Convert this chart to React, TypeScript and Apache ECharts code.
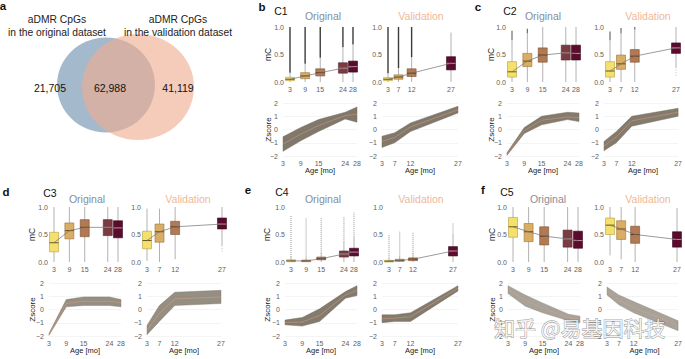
import React, { useEffect, useRef } from "react";
import * as echarts from "echarts";

// ---------- data ----------
const AGES_ORIG = [3, 9, 15, 24, 28];
const AGES_VAL = [3, 7, 12, 27];

const VENN_TITLES_LEFT = ["aDMR CpGs", "in the original dataset"];
const VENN_TITLES_RIGHT = ["aDMR CpGs", "in the validation dataset"];
const VENN_COUNTS = [21705, 62988, 41119];

const CLUSTERS = ["C1", "C2", "C3", "C4", "C5"];
const PANEL_LETTERS = ["b", "c", "d", "e", "f"];

// box rows per age: [lowerWhisker, q1, median, q3, upperWhisker, outlierTop, outlierBottom]
const C1_ORIG_BOX = [
  [0.0, 0.025, 0.05, 0.085, 0.17, 1.0],
  [0.0, 0.06, 0.11, 0.17, 0.33, 1.0],
  [0.0, 0.11, 0.17, 0.24, 0.44, 1.0],
  [0.0, 0.16, 0.25, 0.35, 0.63, 1.0],
  [0.0, 0.18, 0.28, 0.38, 0.68, 1.0],
];
const C1_VAL_BOX = [
  [0.0, 0.025, 0.05, 0.08, 0.16, 1.0],
  [0.0, 0.05, 0.09, 0.13, 0.25, 1.0],
  [0.0, 0.1, 0.16, 0.24, 0.45, 1.0],
  [0.0, 0.22, 0.34, 0.46, 0.9, 0.9],
];
const C2_ORIG_BOX = [
  [0.0, 0.09, 0.185, 0.37, 0.76, 0.93],
  [0.0, 0.28, 0.38, 0.52, 0.88, 0.97],
  [0.0, 0.36, 0.49, 0.62, 1.0, 1.0],
  [0.0, 0.4, 0.53, 0.67, 1.0, 1.0],
  [0.0, 0.4, 0.52, 0.67, 1.0, 1.0],
];
const C2_VAL_BOX = [
  [0.0, 0.09, 0.2, 0.37, 0.76, 0.92],
  [0.0, 0.23, 0.33, 0.49, 0.88, 0.98],
  [0.0, 0.36, 0.47, 0.59, 0.95, 1.0],
  [0.27, 0.52, 0.62, 0.71, 1.0, 1.0, 0.1],
];
const C3_ORIG_BOX = [
  [0.0, 0.185, 0.35, 0.54, 1.0],
  [0.0, 0.42, 0.57, 0.71, 1.0],
  [0.0, 0.46, 0.63, 0.77, 1.0],
  [0.0, 0.48, 0.63, 0.77, 1.0],
  [0.0, 0.44, 0.62, 0.75, 1.0],
];
const C3_VAL_BOX = [
  [0.02, 0.24, 0.39, 0.56, 0.97],
  [0.0, 0.36, 0.55, 0.69, 0.97],
  [0.05, 0.5, 0.64, 0.74, 1.0],
  [0.3, 0.6, 0.69, 0.8, 1.0, 1.0, 0.18],
];
const C4_ORIG_BOX = [
  [0.0, 0.005, 0.02, 0.04, 0.09, 0.85],
  [0.0, 0.005, 0.02, 0.035, 0.08, 0.8],
  [0.0, 0.04, 0.06, 0.09, 0.16, 0.8],
  [0.0, 0.09, 0.145, 0.2, 0.36, 0.82],
  [0.0, 0.11, 0.18, 0.25, 0.45, 0.9],
];
const C4_VAL_BOX = [
  [0.0, 0.0, 0.015, 0.03, 0.07, 0.5],
  [0.0, 0.01, 0.03, 0.05, 0.1, 0.55],
  [0.0, 0.025, 0.05, 0.075, 0.15, 0.55],
  [0.0, 0.11, 0.2, 0.28, 0.5, 0.7],
];
const C5_ORIG_BOX = [
  [0.0, 0.45, 0.64, 0.81, 1.0],
  [0.0, 0.37, 0.55, 0.7, 1.0],
  [0.0, 0.31, 0.47, 0.64, 1.0],
  [0.0, 0.27, 0.42, 0.58, 1.0],
  [0.0, 0.25, 0.39, 0.56, 1.0],
];
const C5_VAL_BOX = [
  [0.12, 0.5, 0.67, 0.8, 1.0],
  [0.05, 0.41, 0.6, 0.75, 1.0],
  [0.0, 0.34, 0.5, 0.65, 1.0],
  [0.0, 0.27, 0.41, 0.55, 0.98],
];

// z-score bundle envelopes (lower / upper) and mean line
const C1_ORIG_Z_LO = [-1.65, -0.85, -0.15, 0.8, 0.55];
const C1_ORIG_Z_HI = [-0.55, 0.15, 0.75, 1.3, 1.7];
const C1_ORIG_Z_MEAN = [-1.1, -0.35, 0.3, 1.05, 1.15];
const C1_VAL_Z_LO = [-1.35, -1.0, -0.15, 1.25];
const C1_VAL_Z_HI = [-0.5, -0.25, 0.5, 1.75];
const C1_VAL_Z_MEAN = [-0.9, -0.6, 0.2, 1.5];

const C2_ORIG_Z_LO = [-1.95, -0.3, 0.35, 0.75, 0.6];
const C2_ORIG_Z_HI = [-1.75, 0.15, 1.0, 1.3, 1.25];
const C2_ORIG_Z_MEAN = [-1.85, -0.1, 0.7, 0.95, 0.9];
const C2_VAL_Z_LO = [-1.6, -1.0, 0.25, 1.0];
const C2_VAL_Z_HI = [-0.9, -0.15, 1.0, 1.6];
const C2_VAL_Z_MEAN = [-1.25, -0.55, 0.65, 1.3];

const C3_ORIG_Z_LO = [-1.95, 0.2, 0.3, 0.3, 0.2];
const C3_ORIG_Z_HI = [-1.8, 0.75, 0.95, 0.95, 0.75];
const C3_ORIG_Z_MEAN = [-1.88, 0.45, 0.62, 0.62, 0.5];
const C3_VAL_Z_LO = [-1.9, -0.9, 0.3, 0.45];
const C3_VAL_Z_HI = [-1.2, 0.3, 1.3, 1.45];
const C3_VAL_Z_MEAN = [-1.55, -0.3, 0.8, 0.95];

const C4_ORIG_Z_LO = [-1.15, -1.25, -0.9, 0.85, 1.05];
const C4_ORIG_Z_HI = [-0.8, -0.6, 0.05, 1.35, 1.8];
const C4_ORIG_Z_MEAN = [-0.98, -0.95, -0.45, 1.1, 1.45];
const C4_VAL_Z_LO = [-1.0, -0.9, -0.9, 1.4];
const C4_VAL_Z_HI = [-0.4, -0.4, -0.25, 1.8];
const C4_VAL_Z_MEAN = [-0.7, -0.65, -0.55, 1.6];

const C5_ORIG_Z_LO = [1.2, 0.25, -0.25, -0.85, -1.0];
const C5_ORIG_Z_HI = [1.8, 1.1, 0.5, -0.35, -0.5];
const C5_ORIG_Z_MEAN = [1.5, 0.7, 0.1, -0.6, -0.75];
const C5_VAL_Z_LO = [1.1, 0.35, -0.25, -1.6];
const C5_VAL_Z_HI = [1.7, 1.1, 0.6, -0.85];
const C5_VAL_Z_MEAN = [1.4, 0.7, 0.15, -1.2];

// ---------- styles / layout ----------
const FONT = "Liberation Sans, Arial, Helvetica, sans-serif";
const FILL_ORIG = ["#f4e06c", "#d9ad62", "#b27a52", "#7b3b42", "#5a0c2e"];
const FILL_VAL = ["#f4e06c", "#d9ad62", "#b27a52", "#5a0c2e"];
const STROKE_ORIG = ["#b39f3e", "#9a7440", "#7a5034", "#55272d", "#3a0619"];
const STROKE_VAL = ["#b39f3e", "#9a7440", "#7a5034", "#3a0619"];
const MED_ORIG = ["#6b5420", "#6b4a22", "#5e3a22", "#b98a8c", "#c28a98"];
const MED_VAL = ["#6b5420", "#6b4a22", "#5e3a22", "#c28a98"];

type Panel = {
  oy: number;
  boxO: [number, number]; boxV: [number, number];
  zO: [number, number]; zV: [number, number];
  letter: [number, number]; cluster: [number, number];
  titleO: number; titleV: number; titleY: number; yLabX: number;
  origBox: number[][]; valBox: number[][];
  zo: number[][]; zv: number[][];
  out: { color: string; width: number; opacity: number; dash?: number[] };
  band: { color: string; opacity: number };
};

const PANELS: Panel[] = [
  {
    oy: 0, boxO: [290, 63], boxV: [388, 63], zO: [283, 74], zV: [382, 76],
    letter: [262, 7], cluster: [281, 11], titleO: 323, titleV: 421, titleY: 16, yLabX: 268,
    origBox: C1_ORIG_BOX, valBox: C1_VAL_BOX,
    zo: [C1_ORIG_Z_LO, C1_ORIG_Z_HI, C1_ORIG_Z_MEAN], zv: [C1_VAL_Z_LO, C1_VAL_Z_HI, C1_VAL_Z_MEAN],
    out: { color: "#262626", width: 1.4, opacity: 0.9 }, band: { color: "#756d5e", opacity: 0.92 },
  },
  {
    oy: 0, boxO: [512, 64], boxV: [610, 66], zO: [507, 72], zV: [604, 78],
    letter: [478, 7], cluster: [510, 11], titleO: 543, titleV: 648, titleY: 16, yLabX: 491,
    origBox: C2_ORIG_BOX, valBox: C2_VAL_BOX,
    zo: [C2_ORIG_Z_LO, C2_ORIG_Z_HI, C2_ORIG_Z_MEAN], zv: [C2_VAL_Z_LO, C2_VAL_Z_HI, C2_VAL_Z_MEAN],
    out: { color: "#3a3a3a", width: 1.2, opacity: 0.75 }, band: { color: "#756d5e", opacity: 0.9 },
  },
  {
    oy: 180, boxO: [54, 64], boxV: [147, 75], zO: [49, 72], zV: [147, 74],
    letter: [6, 192], cluster: [50, 193], titleO: 87, titleV: 188, titleY: 199, yLabX: 32,
    origBox: C3_ORIG_BOX, valBox: C3_VAL_BOX,
    zo: [C3_ORIG_Z_LO, C3_ORIG_Z_HI, C3_ORIG_Z_MEAN], zv: [C3_VAL_Z_LO, C3_VAL_Z_HI, C3_VAL_Z_MEAN],
    out: { color: "#9a9a9a", width: 1, opacity: 0.6, dash: [1, 1.5] }, band: { color: "#7a7264", opacity: 0.8 },
  },
  {
    oy: 180, boxO: [291, 63], boxV: [389, 64], zO: [285, 72], zV: [382, 76],
    letter: [248, 190], cluster: [282, 192], titleO: 323, titleV: 421, titleY: 199, yLabX: 267,
    origBox: C4_ORIG_BOX, valBox: C4_VAL_BOX,
    zo: [C4_ORIG_Z_LO, C4_ORIG_Z_HI, C4_ORIG_Z_MEAN], zv: [C4_VAL_Z_LO, C4_VAL_Z_HI, C4_VAL_Z_MEAN],
    out: { color: "#6a6a6a", width: 1.3, opacity: 0.55, dash: [1, 1] }, band: { color: "#756d5e", opacity: 0.9 },
  },
  {
    oy: 180, boxO: [513, 65], boxV: [610, 67], zO: [508, 72], zV: [607, 75],
    letter: [483, 190], cluster: [507, 192], titleO: 548, titleV: 648, titleY: 199, yLabX: 492,
    origBox: C5_ORIG_BOX, valBox: C5_VAL_BOX,
    zo: [C5_ORIG_Z_LO, C5_ORIG_Z_HI, C5_ORIG_Z_MEAN], zv: [C5_VAL_Z_LO, C5_VAL_Z_HI, C5_VAL_Z_MEAN],
    out: { color: "#888", width: 1, opacity: 0.5 }, band: { color: "#857f73", opacity: 0.72 },
  },
];

const BOX_TOP = 27, BOX_H = 55, Z_TOP = 103, Z_H = 53;

function makeBoxRender(fills: string[], strokes: string[], meds: string[], bw: number, out: Panel["out"]) {
  return (params: any, api: any) => {
    const i = params.dataIndex;
    const x = api.value(0);
    const v = [1, 2, 3, 4, 5, 6, 7].map((k) => api.value(k));
    const [lo, q1, md, q3, hi, ot, ob] = v;
    const y = (val: number) => api.coord([x, val])[1];
    const px = api.coord([x, 0])[0];
    const children: any[] = [];
    if (ot > hi) {
      children.push({
        type: "line", shape: { x1: px, y1: y(hi), x2: px, y2: y(ot) },
        style: { stroke: out.color, lineWidth: out.width, opacity: out.opacity, lineDash: out.dash },
      });
    }
    if (ob < lo) {
      children.push({
        type: "line", shape: { x1: px, y1: y(lo), x2: px, y2: y(ob) },
        style: { stroke: "#9a9a9a", lineWidth: 1, opacity: 0.6, lineDash: [1, 1.5] },
      });
    }
    children.push({
      type: "line", shape: { x1: px, y1: y(lo), x2: px, y2: y(hi) },
      style: { stroke: "#a9a9a9", lineWidth: 0.9 },
    });
    children.push({
      type: "rect", shape: { x: px - bw / 2, y: y(q3), width: bw, height: Math.max(1.2, y(q1) - y(q3)) },
      style: { fill: fills[i], stroke: strokes[i], lineWidth: 0.6 },
    });
    children.push({
      type: "line", shape: { x1: px - bw / 2, y1: y(md), x2: px + bw / 2, y2: y(md) },
      style: { stroke: meds[i], lineWidth: 1 },
    });
    return { type: "group", children };
  };
}

function makeBandRender(ages: number[], lo: number[], hi: number[], band: Panel["band"]) {
  return (params: any, api: any) => {
    if (params.dataIndex !== 0) return null;
    const pts: number[][] = [];
    ages.forEach((a, i) => pts.push(api.coord([a, lo[i]])));
    for (let i = ages.length - 1; i >= 0; i--) pts.push(api.coord([ages[i], hi[i]]));
    return {
      type: "polygon",
      shape: { points: pts },
      style: { fill: band.color, opacity: band.opacity, stroke: band.color, lineWidth: 0.5 },
    };
  };
}

function buildOption() {
  const grid: any[] = [];
  const xAxis: any[] = [];
  const yAxis: any[] = [];
  const series: any[] = [];
  const graphic: any[] = [];

  const labelStyle = { fontSize: 7, color: "#5e5e5e", fontFamily: FONT };

  const addGrid = (left: number, top: number, width: number, height: number, ages: number[], isZ: boolean) => {
    const gi = grid.length;
    grid.push({ left, top, width, height });
    xAxis.push({
      gridIndex: gi, type: "value", min: 3, max: ages[ages.length - 1],
      axisLine: { show: false }, axisTick: { show: false }, splitLine: { show: false },
      axisLabel: { ...labelStyle, margin: 4, customValues: ages },
    });
    yAxis.push(
      isZ
        ? {
            gridIndex: gi, type: "value", min: -2, max: 2, interval: 1,
            axisLine: { show: false }, axisTick: { show: false },
            splitLine: { show: true, lineStyle: { color: "#ededed", width: 0.6 } },
            axisLabel: { ...labelStyle, margin: 5, formatter: (v: number) => String(v).replace("-", "\u2212") },
          }
        : {
            gridIndex: gi, type: "value", min: 0, max: 1, interval: 0.5,
            axisLine: { show: false }, axisTick: { show: false }, splitLine: { show: false },
            axisLabel: { ...labelStyle, margin: 6, formatter: (v: number) => v.toFixed(1) },
          }
    );
    return gi;
  };

  const addBox = (gi: number, ages: number[], rows: number[][], fills: string[], strokes: string[], meds: string[], out: Panel["out"]) => {
    const data = rows.map((r, i) => [ages[i], r[0], r[1], r[2], r[3], r[4], r[5] ?? r[4], r[6] ?? r[0]]);
    series.push({
      type: "custom", xAxisIndex: gi, yAxisIndex: gi, clip: false, z: 2, silent: true,
      renderItem: makeBoxRender(fills, strokes, meds, 9, out),
      encode: { x: 0, y: [1, 2, 3, 4, 5] }, data,
    });
    series.push({
      type: "line", xAxisIndex: gi, yAxisIndex: gi, z: 3, silent: true, symbol: "none",
      lineStyle: { color: "#707070", width: 0.7 },
      data: rows.map((r, i) => [ages[i], r[2]]),
    });
  };

  const addBand = (gi: number, ages: number[], z: number[][], band: Panel["band"]) => {
    const [lo, hi, mean] = z;
    series.push({
      type: "custom", xAxisIndex: gi, yAxisIndex: gi, z: 2, silent: true,
      renderItem: makeBandRender(ages, lo, hi, band),
      encode: { x: 0, y: [1, 2] }, data: ages.map((a, i) => [a, lo[i], hi[i]]),
    });
    series.push({
      type: "line", xAxisIndex: gi, yAxisIndex: gi, z: 3, silent: true, symbol: "none",
      lineStyle: { color: "#eaa47c", width: 0.8, opacity: 0.55 },
      data: ages.map((a, i) => [a, mean[i]]),
    });
  };

  const txt = (x: number, y: number, text: string, extra: any = {}, rotation = 0) => {
    graphic.push({
      type: "text", x, y, rotation, z: 50, silent: true,
      style: {
        text, fontSize: 8, fontFamily: FONT, fill: "#222",
        textAlign: "center", textVerticalAlign: "middle", ...extra,
      },
    });
  };

  PANELS.forEach((p, k) => {
    const bt = BOX_TOP + p.oy, zt = Z_TOP + p.oy;
    const g1 = addGrid(p.boxO[0], bt, p.boxO[1], BOX_H, AGES_ORIG, false);
    const g2 = addGrid(p.boxV[0], bt, p.boxV[1], BOX_H, AGES_VAL, false);
    const g3 = addGrid(p.zO[0], zt, p.zO[1], Z_H, AGES_ORIG, true);
    const g4 = addGrid(p.zV[0], zt, p.zV[1], Z_H, AGES_VAL, true);
    addBox(g1, AGES_ORIG, p.origBox, FILL_ORIG, STROKE_ORIG, MED_ORIG, p.out);
    addBox(g2, AGES_VAL, p.valBox, FILL_VAL, STROKE_VAL, MED_VAL, p.out);
    addBand(g3, AGES_ORIG, p.zo, p.band);
    addBand(g4, AGES_VAL, p.zv, p.band);

    txt(p.letter[0], p.letter[1], PANEL_LETTERS[k], { fontSize: 11.5, fontWeight: "bold", fill: "#111" });
    txt(p.cluster[0], p.cluster[1], CLUSTERS[k], { fontSize: 10.5, fill: "#111" });
    txt(p.titleO, p.titleY, "Original", { fontSize: 10.5, fill: "#868e99" });
    txt(p.titleV, p.titleY, "Validation", { fontSize: 10.5, fill: "#efb898" });
    txt(p.yLabX, bt + BOX_H / 2, "mC", { fontSize: 8.5 }, Math.PI / 2);
    txt(p.yLabX, zt + Z_H / 2, "Zscore", { fontSize: 8 }, Math.PI / 2);
    txt(p.zO[0] + p.zO[1] / 2, zt + Z_H + 14, "Age [mo]", { fontSize: 7.5 });
    txt(p.zV[0] + p.zV[1] / 2, zt + Z_H + 14, "Age [mo]", { fontSize: 7.5 });
  });

  // Venn diagram (panel a)
  graphic.push({ type: "ellipse", z: 10, silent: true, shape: { cx: 106, cy: 85, rx: 49, ry: 47.5 }, style: { fill: "#a4b9cc" } });
  graphic.push({ type: "ellipse", z: 11, silent: true, shape: { cx: 138, cy: 87, rx: 56, ry: 53 }, style: { fill: "rgba(239,172,146,0.63)" } });
  txt(3, 6, "a", { fontSize: 11.5, fontWeight: "bold", fill: "#111" });
  txt(57, 19, VENN_TITLES_LEFT[0], { fontSize: 10.3, fill: "#222" });
  txt(57, 32, VENN_TITLES_LEFT[1], { fontSize: 10.3, fill: "#222" });
  txt(178, 19, VENN_TITLES_RIGHT[0], { fontSize: 10.3, fill: "#222" });
  txt(178, 32, VENN_TITLES_RIGHT[1], { fontSize: 10.3, fill: "#222" });
  txt(50, 88, VENN_COUNTS[0].toLocaleString("en-US"), { fontSize: 10.5, fill: "#111" });
  txt(110, 88, VENN_COUNTS[1].toLocaleString("en-US"), { fontSize: 10.5, fill: "#111" });
  txt(178, 88, VENN_COUNTS[2].toLocaleString("en-US"), { fontSize: 10.5, fill: "#111" });

  // watermark
  graphic.push({
    type: "text", x: 494, y: 327, z: 100, silent: true,
    style: {
      text: "知乎 @易基因科技", fontSize: 21, fontFamily: "Noto Sans CJK SC",
      fill: "rgba(255,255,255,0.78)", stroke: "rgba(80,80,80,0.6)", lineWidth: 0.9,
      textAlign: "left", textVerticalAlign: "middle",
    },
  });

  return {
    animation: false,
    backgroundColor: "#ffffff",
    textStyle: { fontFamily: FONT },
    grid, xAxis, yAxis, series, graphic,
  };
}

export default function App() {
  const ref = useRef<HTMLDivElement>(null);
  useEffect(() => {
    document.body.style.margin = "0";
    if (!ref.current) return;
    const chart = echarts.init(ref.current, undefined, { renderer: "svg" });
    chart.setOption(buildOption() as any);
    return () => chart.dispose();
  }, []);
  return <div ref={ref} style={{ position: "fixed", left: 0, top: 0, width: 685, height: 359 }} />;
}
